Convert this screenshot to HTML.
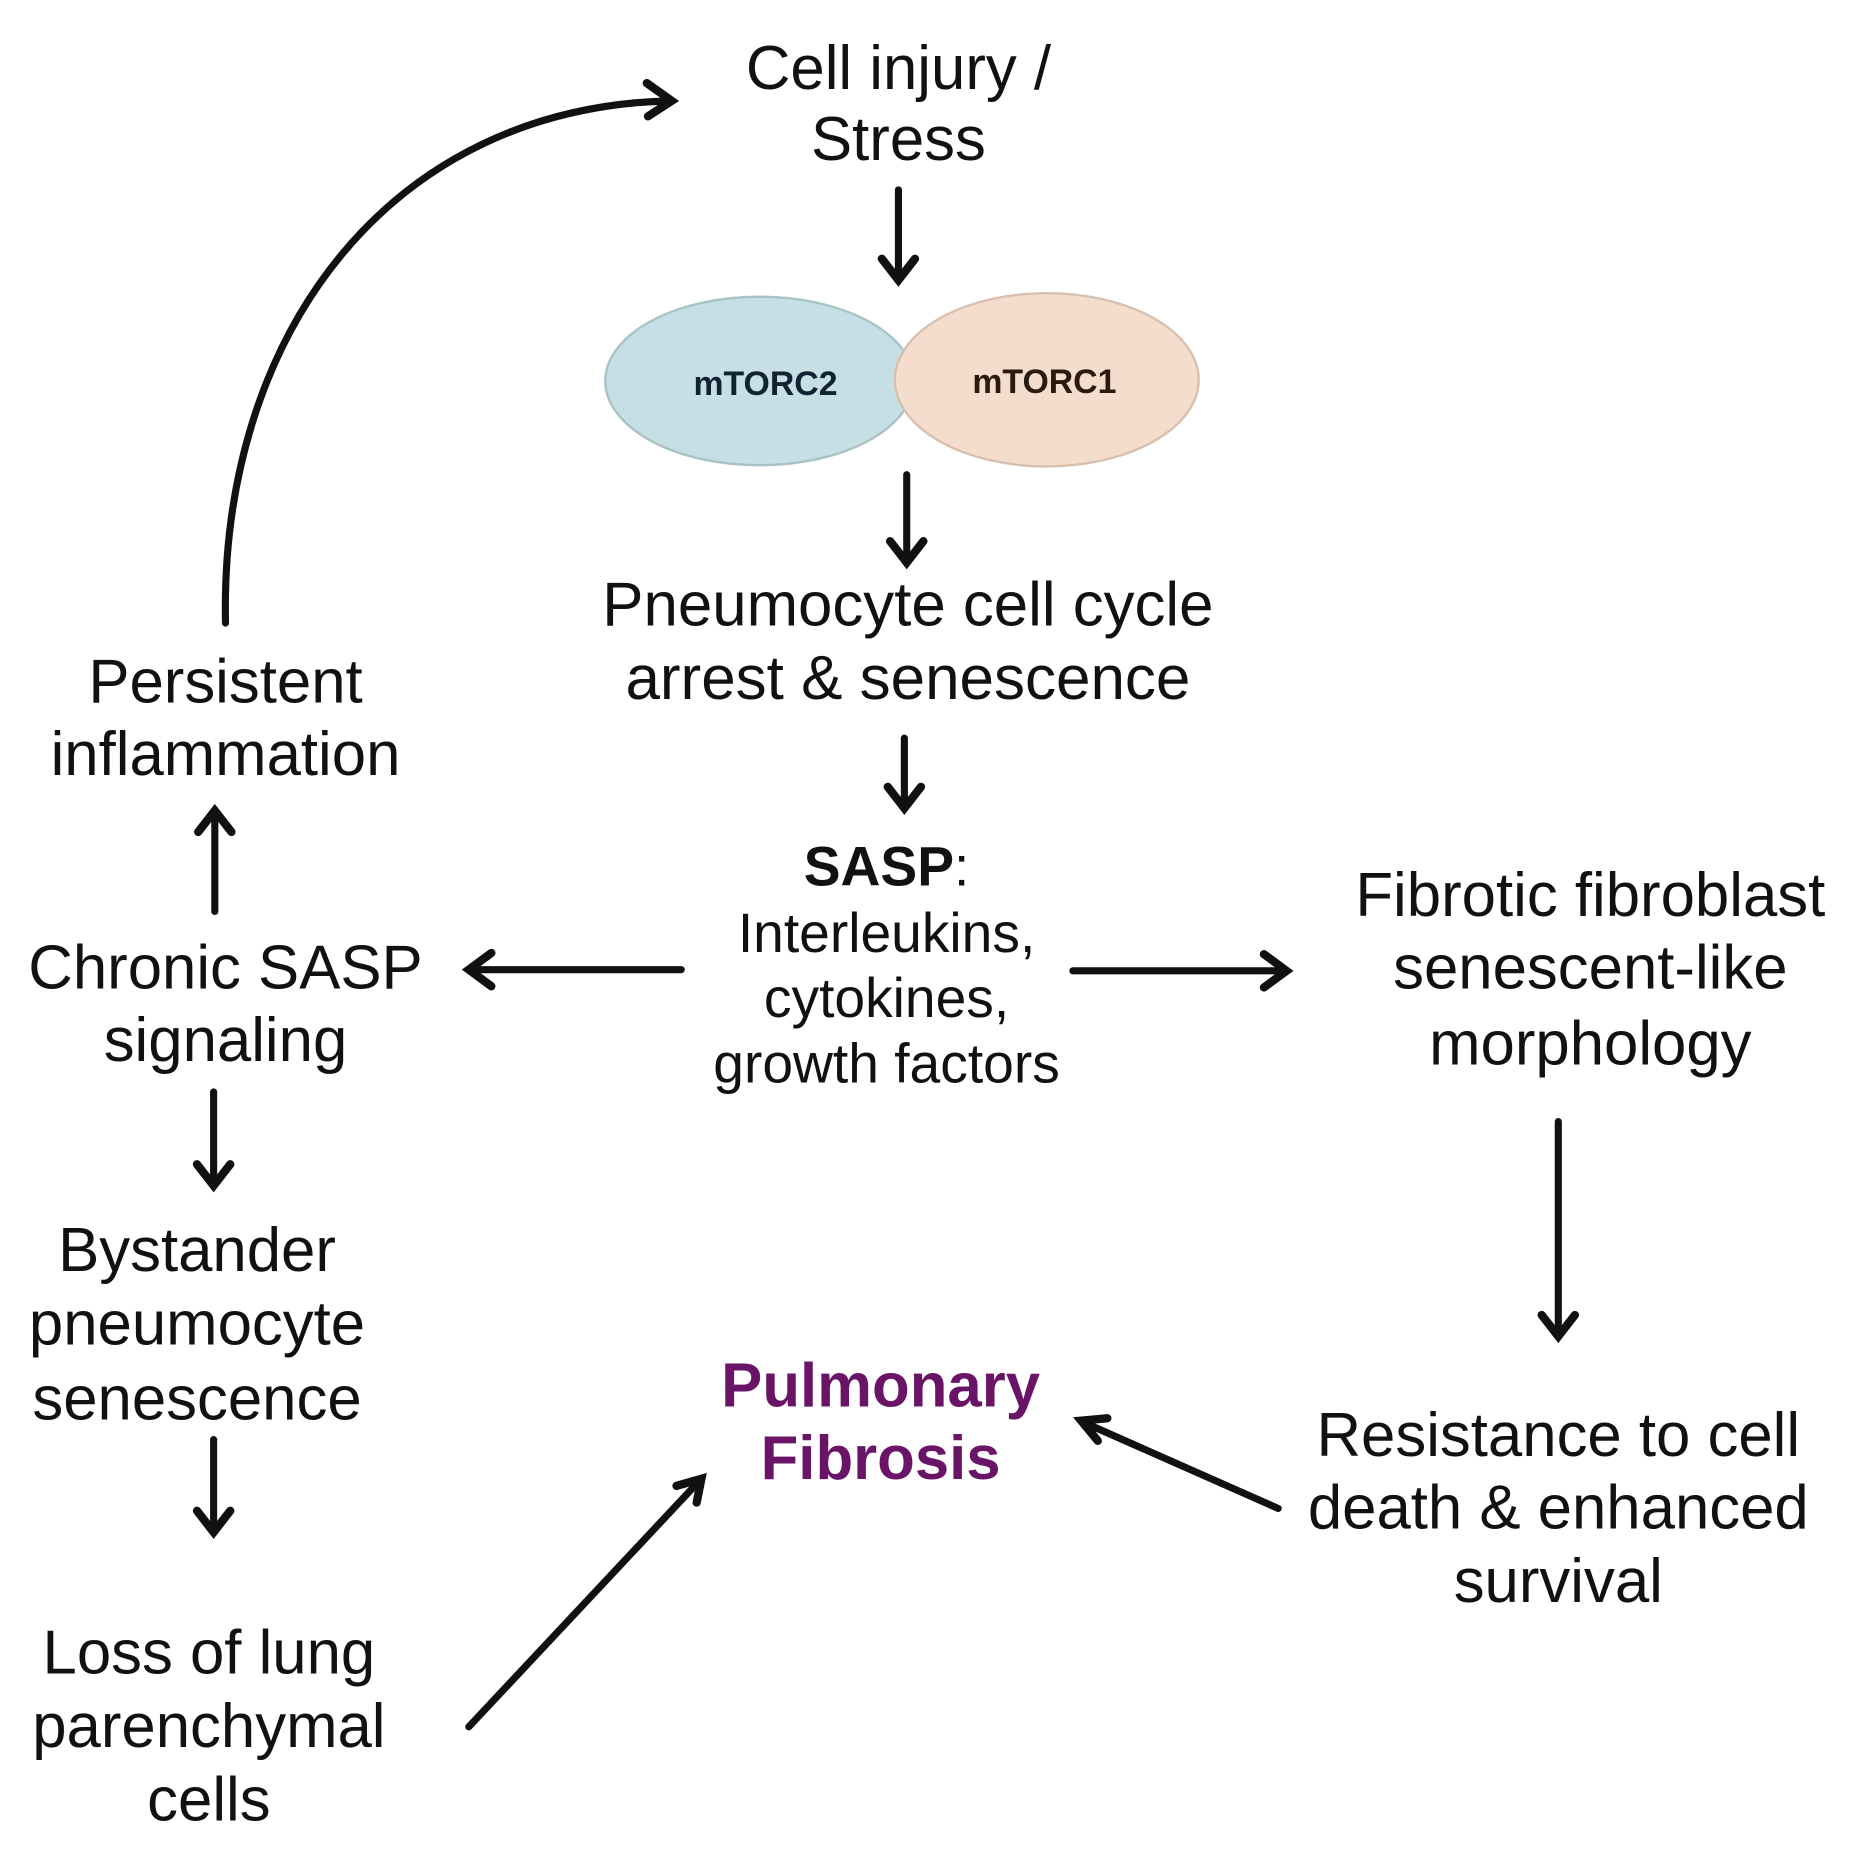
<!DOCTYPE html>
<html><head><meta charset="utf-8"><style>html,body{margin:0;padding:0;background:#fff}svg{display:block}</style></head>
<body>
<svg width="1855" height="1855" viewBox="0 0 1563 1563" xmlns="http://www.w3.org/2000/svg">
<g font-family="'Liberation Sans', Arial, sans-serif" font-size="52" fill="#111" text-anchor="middle">
<text x="757" y="75">Cell injury /</text>
<text x="757" y="135">Stress</text>
<text x="765" y="527" textLength="515" lengthAdjust="spacingAndGlyphs">Pneumocyte cell cycle</text>
<text x="765" y="589" textLength="476" lengthAdjust="spacingAndGlyphs">arrest &amp; senescence</text>
<text x="190" y="592">Persistent</text>
<text x="190" y="653">inflammation</text>
<text x="190" y="833">Chronic SASP</text>
<text x="190" y="894">signaling</text>
<text x="166" y="1071">Bystander</text>
<text x="166" y="1133">pneumocyte</text>
<text x="166" y="1196">senescence</text>
<text x="176" y="1410">Loss of lung</text>
<text x="176" y="1472">parenchymal</text>
<text x="176" y="1534">cells</text>
<text x="1340" y="772" textLength="396" lengthAdjust="spacingAndGlyphs">Fibrotic fibroblast</text>
<text x="1340" y="833">senescent-like</text>
<text x="1340" y="897">morphology</text>
<text x="1313" y="1227">Resistance to cell</text>
<text x="1313" y="1288">death &amp; enhanced</text>
<text x="1313" y="1350">survival</text>
<g font-size="46.5">
<text x="747" y="746"><tspan font-weight="bold">SASP</tspan>:</text>
<text x="747" y="802">Interleukins,</text>
<text x="747" y="857">cytokines,</text>
<text x="747" y="912">growth factors</text>
</g>
<g font-size="52" font-weight="bold" fill="#6a1468">
<text x="742" y="1185">Pulmonary</text>
<text x="742" y="1246">Fibrosis</text>
</g>
</g>
<ellipse cx="640" cy="321" rx="130" ry="71" fill="#c6dfe4" stroke="#a9c2c8" stroke-width="2"/>
<ellipse cx="882" cy="320" rx="128" ry="73" fill="#f5ddcd" stroke="#d8c0b0" stroke-width="2"/>
<g font-family="'Liberation Sans', Arial, sans-serif" font-size="28.5" font-weight="bold" text-anchor="middle">
<text x="645" y="333" fill="#123">mTORC2</text>
<text x="880" y="331" fill="#2a1a10">mTORC1</text>
</g>
<g stroke="#111" stroke-width="6" fill="none" stroke-linecap="round">
<path d="M757 160 V235"/><path d="M743 218 L757 236 L771 218" stroke-width="7"/>
<path d="M764 400 V472"/><path d="M750 456 L764 474 L778 456" stroke-width="7"/>
<path d="M762 622 V680"/><path d="M748 663 L762 681 L776 663" stroke-width="7"/>
<path d="M574 817 H396"/><path d="M414 803 L395 817 L414 831" stroke-width="7"/>
<path d="M904 818 H1083"/><path d="M1065 804 L1084 818 L1065 832" stroke-width="7"/>
<path d="M181 768 V684"/><path d="M167 701 L181 683 L195 701" stroke-width="7"/>
<path d="M180 920 V998"/><path d="M166 981 L180 999 L194 981" stroke-width="7"/>
<path d="M180 1213 V1290"/><path d="M166 1273 L180 1291 L194 1273" stroke-width="7"/>
<path d="M1313 945 V1125"/><path d="M1299 1108 L1313 1126 L1327 1108" stroke-width="7"/>
<path d="M1077 1271 L912 1198"/><path d="M933 1195 L911 1197 L925 1214" stroke-width="7"/>
<path d="M395 1455 L590 1247"/><path d="M570 1252 L591 1246 L587 1266" stroke-width="7"/>
<path d="M190 525 C185 280 330 90 565 85"/><path d="M545 70 L566 85 L546 98" stroke-width="7"/>
</g>
</svg>
</body></html>
